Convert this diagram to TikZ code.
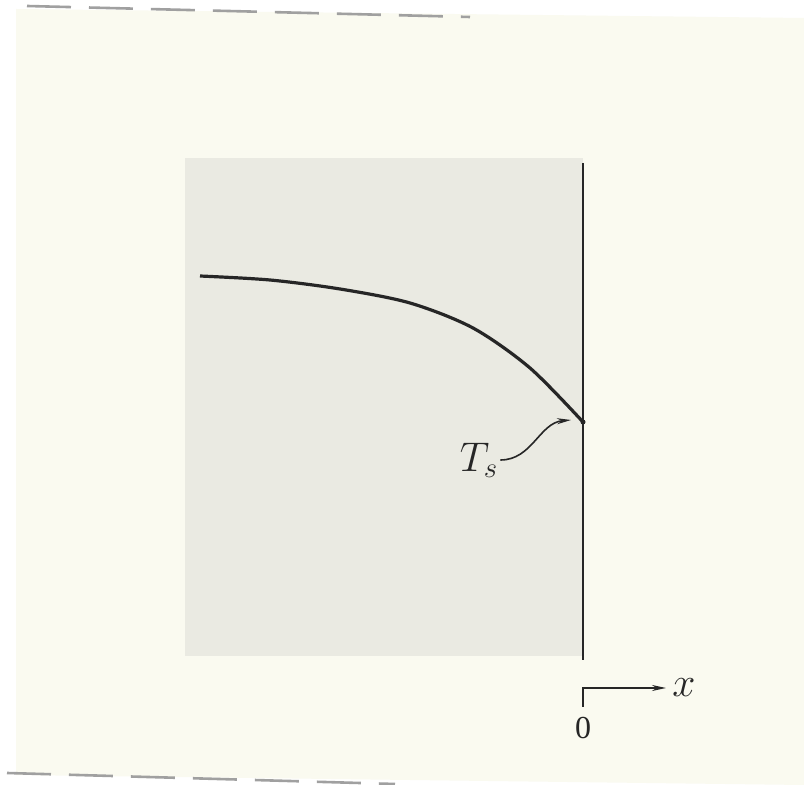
\documentclass[tikz,border=0pt]{standalone}
\usepackage{fontspec}
\setmainfont{Liberation Serif}
\usetikzlibrary{arrows.meta,positioning}
\definecolor{paper}{HTML}{FAFAF0}
\definecolor{shd}{HTML}{EAEAE2}
\definecolor{ink}{HTML}{262626}
\definecolor{rimc}{HTML}{A0A0A0}
\tikzset{
  lbl/.style={font=\fontsize{20}{24}\selectfont,inner sep=1pt,text=ink},
  num/.style={font=\fontsize{16}{19}\selectfont,inner sep=1pt,text=ink},
  ar/.style={-{Stealth[length=7pt,width=3pt]},draw=ink,line width=0.8pt},
  wall/.style={draw=ink,line width=1.4pt},
  prof/.style={draw=ink,line width=1.6pt},
  rim/.style={draw=rimc,line width=1.3pt,dash pattern=on 22pt off 9pt},
}

\begin{document}
\begin{tikzpicture}[x=0.5pt,y=-0.5pt]
\useasboundingbox (0,0) rectangle (804,785);
% page and scan edges
\fill[white] (0,0) rectangle (804,785);
\fill[paper] (16,9) -- (804,18) -- (804,785) -- (16,775) -- cycle;
\draw[rim] (27,6) -- (470,17);
\draw[rim] (7,773) -- (395,784);
% solid region and wall
\fill[shd] (185,158) rectangle (583,656);
\coordinate (wtop) at (583,163);
\coordinate (wbot) at (583,660);
\draw[wall] (wtop) -- (wbot);
% temperature profile
\coordinate (ts) at (583,422);
\draw[prof] plot[smooth,tension=0.5] coordinates {(200,276) (270,280) (340,289) (410,303) (473,328) (530,368) (ts)};
\fill[ink] (ts) circle (2.5);
\node[lbl] (tlab) at (479,460) {$T_s$};
\coordinate (tstip) at (571,420);
\draw[ar] (tlab.east) to[out=0,in=185] (tstip);
% axis
\coordinate (org) at (583,688);
\coordinate (obot) at (583,707);
\coordinate (ox) at (666,688);
\draw[ar] (obot) -- (org) -- (ox);
\node[lbl,right=2pt of ox] (xlab) {$x$};
\node[num,below=4pt of obot] (zero) {0};
\end{tikzpicture}
\end{document}
